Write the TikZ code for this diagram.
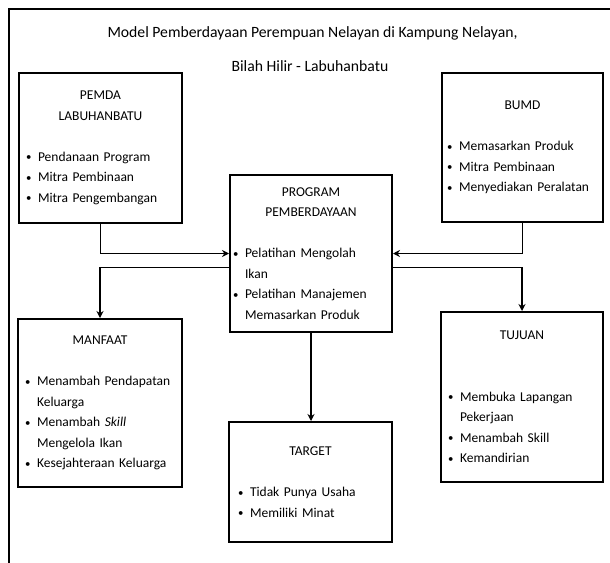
\documentclass[tikz,border=0pt]{standalone}
\usepackage{fontspec}
\setmainfont{Carlito}
\usepackage{tikz}
\usetikzlibrary{arrows.meta}

\newlength{\bulind}
\setlength{\bulind}{12pt}
\newcommand{\hd}[1]{{\centering #1\par}}
\newcommand{\gap}{\vspace{20.5pt}}
\newcommand{\itm}[1]{\par\noindent\hangindent=\bulind\hangafter=1\makebox[\bulind][l]{\raisebox{0.5pt}{\scalebox{0.8}{\textbullet}}}#1\par}

\begin{document}
\begin{tikzpicture}[x=1pt, y=-1pt,
    box/.style={draw, line width=2pt, inner sep=0pt, align=left,
      font=\fontsize{13.5}{20.5}\selectfont},
    arr/.style={-{Stealth[length=7pt,width=7pt]}, line width=1.6pt},
    head/.style={font=\fontsize{15.7}{18}\selectfont}]
      \useasboundingbox (0,0) rectangle (610,562);
      \draw[line width=1.6pt] (9,570) -- (9,9) -- (620,9);

      \node[head] (title) at (312.5,33) {Model Pemberdayaan Perempuan Nelayan di Kampung Nelayan,};
      \node[head] (subtitle) at (310,66) {Bilah Hilir - Labuhanbatu};

      \node[box, minimum width=163pt, minimum height=150pt, text width=149pt] (pemda) at (100.5,148)
        {\hd{PEMDA\\LABUHANBATU}\gap\itm{Pendanaan Program}\itm{Mitra Pembinaan}\itm{Mitra Pengembangan}};
      \node[box, minimum width=161pt, minimum height=149pt, text width=151pt] (bumd) at (522.5,147.5)
        {\hd{BUMD}\gap\itm{Memasarkan Produk}\itm{Mitra Pembinaan}\itm{Menyediakan Peralatan}};
      \node[box, minimum width=162pt, minimum height=157pt, text width=156pt] (prog) at (311,253.5)
        {\hd{PROGRAM\\PEMBERDAYAAN}\gap\itm{Pelatihan Mengolah\newline Ikan}\itm{Pelatihan Manajemen\newline Memasarkan Produk}};
      \node[box, minimum width=164pt, minimum height=168pt, text width=150pt] (manfaat) at (100,403)
        {\hd{MANFAAT}\gap\itm{\makebox[135pt][s]{Menambah Pendapatan}\newline Keluarga}\itm{Menambah \textit{Skill}\newline Mengelola Ikan}\itm{\makebox[131pt][s]{Kesejahteraan Keluarga}}};
      \node[box, minimum width=163pt, minimum height=120pt, text width=145pt] (target) at (310.5,482)
        {\hd{TARGET}\gap\itm{Tidak Punya Usaha}\itm{Memiliki Minat}};
      \node[box, minimum width=162pt, minimum height=170pt, text width=148pt] (tujuan) at (522,397)
        {\hd{TUJUAN}\gap\gap\itm{Membuka Lapangan\newline Pekerjaan}\itm{Menambah Skill}\itm{Kemandirian}};

      \draw[arr] (pemda.south) |- (prog.west);
      \draw[arr] (bumd.south) |- (prog.east);
      \draw[arr] ([yshift=-14pt]prog.west) -| (manfaat.north);
      \draw[arr] ([yshift=-14pt]prog.east) -| (tujuan.north);
      \draw[arr] (prog.south) -- (prog.south |- target.north);
\end{tikzpicture}
\end{document}
